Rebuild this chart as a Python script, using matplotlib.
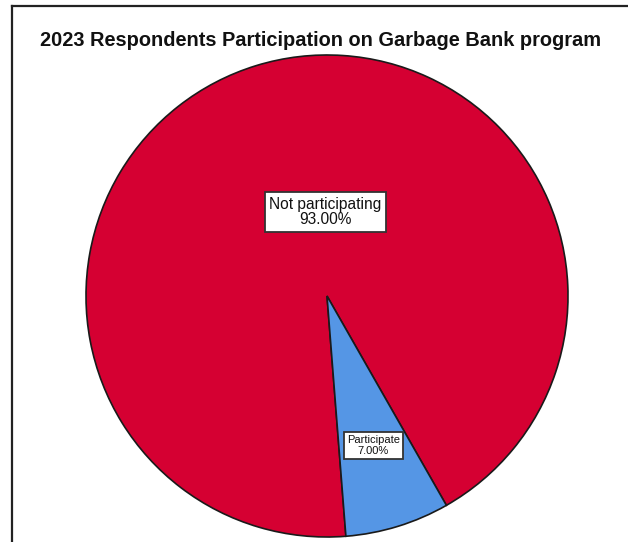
import matplotlib
matplotlib.use("Agg")
import matplotlib.pyplot as plt
from matplotlib.lines import Line2D

title = "2023 Respondents Participation on Garbage Bank program"
categories = ["Not participating", "Participate"]
shares = [93.00, 7.00]
colors = ["#D50032", "#5596E5"]

W, H = 628, 542
fig = plt.figure(figsize=(W / 100, H / 100), dpi=100)
fig.patch.set_facecolor("white")
ax = fig.add_axes([0, 0, 1, 1])
ax.set_xlim(0, W)
ax.set_ylim(0, H)
ax.set_aspect("equal")
ax.axis("off")

cx, cy, r = 327, H - 296, 241
wedges, _ = ax.pie(shares, colors=colors, startangle=-60.3, counterclock=True,
                   center=(cx, cy), radius=r, frame=True,
                   wedgeprops=dict(edgecolor="#1a1a1a", linewidth=1.2))
ax.set_xlim(0, W)
ax.set_ylim(0, H)
ax.axis("off")

label_pos = [(325.5, H - 212), (373.5, H - 445.5)]
label_sizes = [11.2, 8.0]
for cat, val, (x, y), fs in zip(categories, shares, label_pos, label_sizes):
    ax.text(x, y, f"{cat}\n{val:.2f}%", ha="center", va="center",
            fontsize=fs, family="Liberation Sans", linespacing=1.05, color="#111111",
            bbox=dict(boxstyle="square,pad=0.3", facecolor="white",
                      edgecolor="#333333", linewidth=1.3))

ax.text(321, H - 40, title, ha="center", va="center", fontsize=14.4,
        fontweight="bold", family="Liberation Sans", color="#111111")

# outer frame (top and left edges)
fig.add_artist(Line2D([12 / W, 1], [1 - 6 / H, 1 - 6 / H], transform=fig.transFigure,
                      color="#222222", linewidth=1.6))
fig.add_artist(Line2D([12 / W, 12 / W], [0, 1 - 6 / H], transform=fig.transFigure,
                      color="#222222", linewidth=1.6))

fig.savefig("out.png", dpi=100, facecolor="white")
